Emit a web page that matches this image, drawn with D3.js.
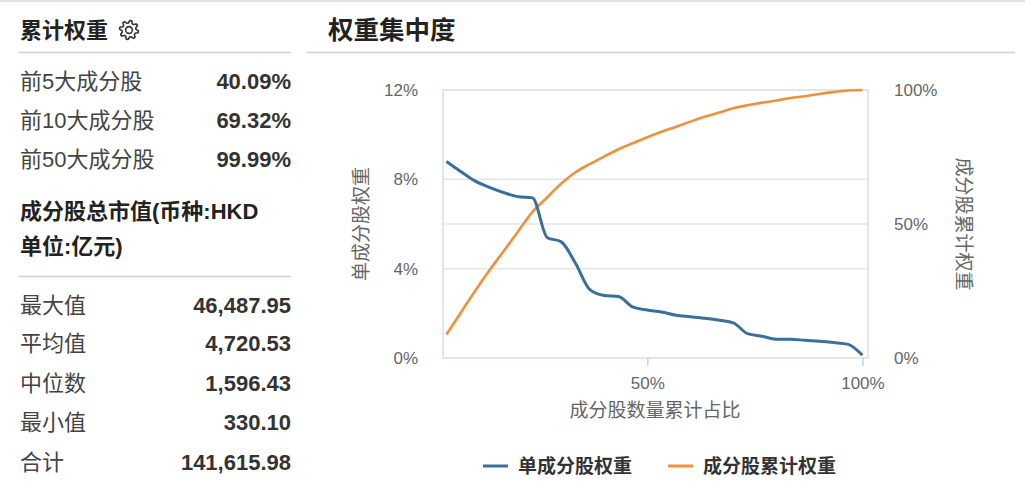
<!DOCTYPE html>
<html>
<head>
<meta charset="utf-8">
<script src="https://cdn.jsdelivr.net/npm/d3@7"></script>
<style>
  body { margin: 0; background: #fff; }
  svg { display: block; font-family: 'Liberation Sans', 'Noto Sans CJK SC', sans-serif; }
</style>
</head>
<body>
<svg width="1025" height="504"></svg>
<script>
// left panel tables
const topLabels = ['前5大成分股', '前10大成分股', '前50大成分股'];
const topValues = ['40.09%', '69.32%', '99.99%'];
const capLabels = ['最大值', '平均值', '中位数', '最小值', '合计'];
const capValues = ['46,487.95', '4,720.53', '1,596.43', '330.10', '141,615.98'];

// chart data: 30 constituents, sorted by weight
const countPct = [3.3, 6.7, 10, 13.3, 16.7, 20, 23.3, 26.7, 30, 33.3,
                  36.7, 40, 43.3, 46.7, 50, 53.3, 56.7, 60, 63.3, 66.7,
                  70, 73.3, 76.7, 80, 83.3, 86.7, 90, 93.3, 96.7, 100];
const singleWeight = [8.80, 8.34, 7.92, 7.64, 7.40, 7.22, 7.17, 5.40, 5.20, 4.24,
                      3.05, 2.80, 2.75, 2.28, 2.15, 2.06, 1.91, 1.85, 1.78, 1.69,
                      1.57, 1.09, 0.97, 0.84, 0.84, 0.79, 0.75, 0.69, 0.61, 0.12];
const cumWeight = [8.8, 17.1, 25.1, 32.7, 40.1, 47.3, 54.5, 59.9, 65.1, 69.3,
                   72.4, 75.2, 77.9, 80.2, 82.4, 84.4, 86.3, 88.2, 90.0, 91.6,
                   93.2, 94.3, 95.3, 96.1, 97.0, 97.7, 98.5, 99.2, 99.8, 100.0];
const leftTicks = [0, 4, 8, 12];
const rightTicks = [0, 50, 100];
const xTicks = [50, 100];
const seriesNames = ['单成分股权重', '成分股累计权重'];

const blue = '#3a6f9c', orange = '#f0903c';
const svg = d3.select('svg');

// top border
svg.append('line').attr('x1', 0).attr('x2', 1025).attr('y1', 1).attr('y2', 1)
  .attr('stroke', '#e3e3e3').attr('stroke-width', 2);

// ---------- left panel ----------
const left = svg.append('g');
left.append('text').attr('x', 20).attr('y', 30).attr('dominant-baseline', 'central')
  .attr('font-size', 22).attr('font-weight', 'bold').attr('fill', '#222').text('累计权重');

// gear icon (outline with 8 teeth)
const gearPts = [];
for (let k = 0; k < 32; k++) {
  const a = (k / 32) * 2 * Math.PI;
  const r = (k % 4 < 2) ? 9.5 : 7;
  gearPts.push([r * Math.cos(a + Math.PI / 32), r * Math.sin(a + Math.PI / 32)]);
}
const gear = left.append('g').attr('transform', 'translate(129,30)')
  .attr('fill', 'none').attr('stroke', '#333').attr('stroke-width', 1.6)
  .attr('stroke-linejoin', 'round');
gear.append('path').attr('d', d3.line().curve(d3.curveLinearClosed)(gearPts));
gear.append('circle').attr('r', 3.4);

left.append('line').attr('x1', 19).attr('x2', 291).attr('y1', 52.5).attr('y2', 52.5)
  .attr('stroke', '#cfcfcf').attr('stroke-width', 1.5);

const topY = [81.7, 120.7, 159.3];
left.selectAll('.tl').data(topLabels).join('text')
  .attr('x', 20).attr('y', (d, i) => topY[i]).attr('dominant-baseline', 'central')
  .attr('font-size', 22).attr('fill', '#444').text(d => d);
left.selectAll('.tv').data(topValues).join('text')
  .attr('x', 291).attr('y', (d, i) => topY[i]).attr('dominant-baseline', 'central')
  .attr('text-anchor', 'end').attr('font-size', 22).attr('font-weight', 'bold')
  .attr('fill', '#333').text(d => d);

left.append('text').attr('x', 20).attr('y', 211.7).attr('dominant-baseline', 'central')
  .attr('font-size', 22).attr('font-weight', 'bold').attr('fill', '#222').text('成分股总市值(币种:HKD');
left.append('text').attr('x', 20).attr('y', 246.7).attr('dominant-baseline', 'central')
  .attr('font-size', 22).attr('font-weight', 'bold').attr('fill', '#222').text('单位:亿元)');

left.append('line').attr('x1', 19).attr('x2', 291).attr('y1', 276.5).attr('y2', 276.5)
  .attr('stroke', '#cfcfcf').attr('stroke-width', 1.5);

const capY = [305, 343.5, 383, 422, 462];
left.selectAll('.cl').data(capLabels).join('text')
  .attr('x', 20).attr('y', (d, i) => capY[i]).attr('dominant-baseline', 'central')
  .attr('font-size', 22).attr('fill', '#444').text(d => d);
left.selectAll('.cv').data(capValues).join('text')
  .attr('x', 291).attr('y', (d, i) => capY[i]).attr('dominant-baseline', 'central')
  .attr('text-anchor', 'end').attr('font-size', 22).attr('font-weight', 'bold')
  .attr('fill', '#333').text(d => d);

// ---------- right panel ----------
svg.append('text').attr('x', 328).attr('y', 30).attr('dominant-baseline', 'central')
  .attr('font-size', 25.5).attr('font-weight', 'bold').attr('fill', '#222').text('权重集中度');
svg.append('line').attr('x1', 307).attr('x2', 1015).attr('y1', 52.5).attr('y2', 52.5)
  .attr('stroke', '#cfcfcf').attr('stroke-width', 1.5);

const plotLeft = 443, plotRight = 868, plotTop = 90, plotBottom = 358;

const x = d3.scaleLinear().domain([2.5, 101.3]).range([plotLeft, plotRight]);
const yLeft = d3.scaleLinear().domain([0, 12]).range([plotBottom, plotTop]);
const yRight = d3.scaleLinear().domain([0, 100]).range([plotBottom, plotTop]);

// gridlines from both axes
const grid = svg.append('g').attr('stroke', '#e6e6e6').attr('stroke-width', 1.5);
grid.selectAll('.gl').data(leftTicks.filter(d => d > 0 && d < 12)).join('line')
  .attr('x1', plotLeft).attr('x2', plotRight)
  .attr('y1', d => yLeft(d)).attr('y2', d => yLeft(d));
grid.selectAll('.gr').data(rightTicks.filter(d => d > 0 && d < 100)).join('line')
  .attr('x1', plotLeft).attr('x2', plotRight)
  .attr('y1', d => yRight(d)).attr('y2', d => yRight(d));

// frame
svg.append('rect').attr('x', plotLeft).attr('y', plotTop)
  .attr('width', plotRight - plotLeft).attr('height', plotBottom - plotTop)
  .attr('fill', 'none').attr('stroke', '#d8dde8').attr('stroke-width', 1.5);

// axes
const styleAxis = g => {
  g.select('.domain').remove();
  g.selectAll('text').attr('font-size', 17).attr('fill', '#666');
};
svg.append('g').attr('transform', `translate(${plotLeft},0)`)
  .call(d3.axisLeft(yLeft).tickValues(leftTicks).tickFormat(d => d + '%').tickSize(0).tickPadding(25))
  .call(styleAxis);
svg.append('g').attr('transform', `translate(${plotRight},0)`)
  .call(d3.axisRight(yRight).tickValues(rightTicks).tickFormat(d => d + '%').tickSize(0).tickPadding(26))
  .call(styleAxis);
svg.append('g').attr('transform', `translate(0,${plotBottom})`)
  .call(d3.axisBottom(x).tickValues(xTicks).tickFormat(d => d + '%').tickSize(8).tickPadding(11))
  .call(styleAxis)
  .call(g => g.selectAll('line').attr('stroke', '#c8cfdb').attr('stroke-width', 1.5));

// axis titles
svg.append('text').attr('transform', 'translate(361,224) rotate(-90)')
  .attr('text-anchor', 'middle').attr('dominant-baseline', 'central')
  .attr('font-size', 19).attr('fill', '#666').text('单成分股权重');
svg.append('text').attr('transform', 'translate(963,224) rotate(90)')
  .attr('text-anchor', 'middle').attr('dominant-baseline', 'central')
  .attr('font-size', 19).attr('fill', '#666').text('成分股累计权重');
svg.append('text').attr('x', 655).attr('y', 410)
  .attr('text-anchor', 'middle').attr('dominant-baseline', 'central')
  .attr('font-size', 19).attr('fill', '#666').text('成分股数量累计占比');

// lines
const lineSingle = d3.line().x((d, i) => x(countPct[i])).y(d => yLeft(d)).curve(d3.curveMonotoneX);
const lineCum = d3.line().x((d, i) => x(countPct[i])).y(d => yRight(d)).curve(d3.curveMonotoneX);

svg.append('path').datum(cumWeight).attr('d', lineCum)
  .attr('fill', 'none').attr('stroke', orange).attr('stroke-width', 2.6);
svg.append('path').datum(singleWeight).attr('d', lineSingle)
  .attr('fill', 'none').attr('stroke', blue).attr('stroke-width', 3);

// legend
const legendX = [483, 668];
const legendColors = [blue, orange];
const legend = svg.selectAll('.lg').data(seriesNames).join('g')
  .attr('transform', (d, i) => `translate(${legendX[i]},466)`);
legend.append('line').attr('x1', 0).attr('x2', 25).attr('y1', 0).attr('y2', 0)
  .attr('stroke', (d, i) => legendColors[i]).attr('stroke-width', 3);
legend.append('text').attr('x', 35).attr('y', 0).attr('dominant-baseline', 'central')
  .attr('font-size', 19).attr('font-weight', 'bold').attr('fill', '#333').text(d => d);
</script>
</body>
</html>
